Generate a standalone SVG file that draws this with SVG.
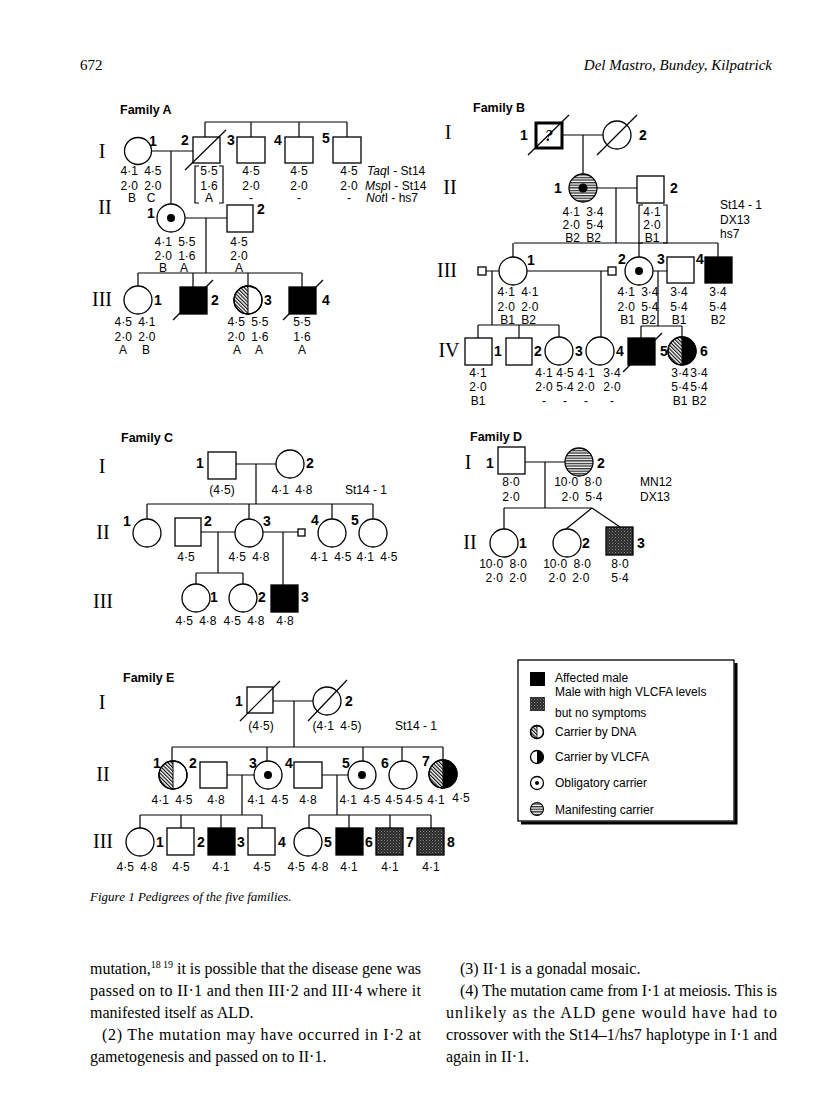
<svg xmlns="http://www.w3.org/2000/svg" width="816" height="1118" viewBox="0 0 816 1118">
<defs>
<style>
.l{stroke:#000;stroke-width:1.2;fill:none}
.s{fill:#fff;stroke:#000;stroke-width:1.3}
.o{fill:none;stroke:#000;stroke-width:1.3}
.f{fill:#000;stroke:#000;stroke-width:1.3}
.d{font-family:"Liberation Sans",Arial,sans-serif;font-size:12px;word-spacing:3px;text-anchor:middle;fill:#000}
.m{font-family:"Liberation Sans",Arial,sans-serif;font-size:12px;fill:#000}
.n{font-family:"Liberation Sans",Arial,sans-serif;font-size:14px;font-weight:bold;text-anchor:middle;fill:#000}
.g{font-family:"Liberation Serif","Times New Roman",serif;font-size:20px;text-anchor:middle;fill:#000}
.ti{font-family:"Liberation Sans",Arial,sans-serif;font-size:12.5px;font-weight:bold;fill:#000}
.lg{font-family:"Liberation Sans",Arial,sans-serif;font-size:12px;fill:#000}
.bt{font-family:"Liberation Serif","Times New Roman",serif;font-size:16px;fill:#000}
</style>
<pattern id="hatch" patternUnits="userSpaceOnUse" width="2.6" height="2.6" patternTransform="rotate(-45)"><rect width="2.6" height="2.6" fill="#fff"/><line x1="0.6" y1="0" x2="0.6" y2="2.6" stroke="#000" stroke-width="1.1"/></pattern>
<pattern id="stripe" patternUnits="userSpaceOnUse" width="4" height="2.6"><rect width="4" height="2.6" fill="#fff"/><line x1="0" y1="0.7" x2="4" y2="0.7" stroke="#000" stroke-width="1.1"/></pattern>
<pattern id="stip" patternUnits="userSpaceOnUse" width="3" height="3"><rect width="3" height="3" fill="#2a2a2a"/><rect x="0" y="0" width="1" height="1" fill="#8a8a8a"/><rect x="1.5" y="1.5" width="1" height="1" fill="#6a6a6a"/></pattern>
</defs>
<rect width="816" height="1118" fill="#fff"/>

<g id="header">
<text x="80" y="70" style="font-family:'Liberation Serif',serif;font-size:15px">672</text>
<text x="772" y="70" text-anchor="end" style="font-family:'Liberation Serif',serif;font-size:15px;font-style:italic">Del Mastro, Bundey, Kilpatrick</text>
</g>

<g id="labels">
<text class="ti" x="120" y="114">Family A</text>
<text class="ti" x="473" y="112">Family B</text>
<text class="ti" x="121" y="442">Family C</text>
<text class="ti" x="470" y="441">Family D</text>
<text class="ti" x="123" y="682">Family E</text>
<text class="g" x="102" y="158">I</text><text class="g" x="105" y="214">II</text><text class="g" x="102" y="306">III</text>
<text class="g" x="448" y="139">I</text><text class="g" x="450" y="194">II</text><text class="g" x="447" y="277">III</text><text class="g" x="449" y="357">IV</text>
<text class="g" x="102" y="473">I</text><text class="g" x="103" y="539">II</text><text class="g" x="103" y="608">III</text>
<text class="g" x="468" y="469">I</text><text class="g" x="470" y="549">II</text>
<text class="g" x="102" y="709">I</text><text class="g" x="103" y="781">II</text><text class="g" x="103" y="848">III</text>
<text class="m" x="367" y="175"><tspan font-style="italic">Taq</tspan>I - St14</text>
<text class="m" x="365" y="190"><tspan font-style="italic">Msp</tspan>I - St14</text>
<text class="m" x="366" y="202"><tspan font-style="italic">Not</tspan>I - hs7</text>
<text class="m" x="720" y="209">St14 - 1</text><text class="m" x="720" y="224">DX13</text><text class="m" x="720" y="238">hs7</text>
<text class="m" x="345" y="494">St14 - 1</text>
<text class="m" x="640" y="486">MN12</text><text class="m" x="640" y="501">DX13</text>
<text class="m" x="395" y="730">St14 - 1</text>
</g>

<g id="connectors">
<path class="l" d="M152,151H193M171,151V204M205,122H347M205,122V137M251,122V137M299,122V137M347,122V137M185,218H227M206,218V273M138,273H302M138,273V286M193,273V287M248,273V286M302,273V287"/>
<path class="l" d="M562,135H603M583,135V174M597,188H637M616,188V243M514,243H718M513,243V257M639,243V257M718,243V257M486,271H499M492,271V325M527,271H608M601,271V337M653,271H667M658,271V326M478,325H559M478,325V338M519,325V338M559,325V337M641,326H682M641,326V338M682,326V337"/>
<path class="l" d="M236,464H276M256,464V504M147,504H373M147,504V519M249,504V519M332,504V519M373,504V519M201,532H235M218,532V573M263,532H298M283,532V585M196,573H243M196,573V584M243,573V584"/>
<path class="l" d="M525,462H565M545,462V508M504,508H592M504,508V529M592,508L566,529M592,508L620,527"/>
<path class="l" d="M273,701H313M294,701V747M172,747H443M172,747V761M267,747V761M363,747V761M402,747V761M443,747V760M227,775H254M242,775V815M322,775H348M337,775V815M140,815H262M140,815V828M181,815V828M221,815V828M262,815V828M309,815H431M309,815V828M349,815V828M390,815V828M431,815V828"/>
</g>

<g id="A-I-1"><circle class="s" cx="138" cy="151" r="13.5"/><text class="n" x="153" y="146">1</text>
<text class="d" x="141" y="175">4·1 4·5</text><text class="d" x="141" y="190">2·0 2·0</text><text class="d" x="132" y="202">B</text><text class="d" x="151" y="202">C</text></g>
<g id="A-I-2"><rect class="s" x="193" y="137" width="27" height="26"/><line class="l" x1="185" y1="170" x2="226" y2="130"/><text class="n" x="185" y="145">2</text>
<text class="d" x="209" y="175">5·5</text><text class="d" x="209" y="190">1·6</text><text class="d" x="209" y="202">A</text>
<path class="l" d="M199,166H195V203H199M219,166H223V203H219"/></g>
<g id="A-I-3"><rect class="s" x="237" y="137" width="28" height="26"/><text class="n" x="231" y="145">3</text>
<text class="d" x="251" y="175">4·5</text><text class="d" x="251" y="190">2·0</text><text class="d" x="251" y="202">-</text></g>
<g id="A-I-4"><rect class="s" x="285" y="137" width="28" height="26"/><text class="n" x="278" y="145">4</text>
<text class="d" x="299" y="175">4·5</text><text class="d" x="299" y="190">2·0</text><text class="d" x="299" y="202">-</text></g>
<g id="A-I-5"><rect class="s" x="333" y="137" width="28" height="26"/><text class="n" x="326" y="143">5</text>
<text class="d" x="349" y="175">4·5</text><text class="d" x="349" y="190">2·0</text><text class="d" x="349" y="202">-</text></g>
<g id="A-II-1"><circle class="s" cx="171" cy="218" r="14"/><circle cx="171" cy="218" r="4"/><text class="n" x="151" y="218">1</text>
<text class="d" x="175" y="246">4·1 5·5</text><text class="d" x="175" y="260">2·0 1·6</text><text class="d" x="163" y="272">B</text><text class="d" x="184" y="272">A</text></g>
<g id="A-II-2"><rect class="s" x="227" y="205" width="26" height="27"/><text class="n" x="261" y="214">2</text>
<text class="d" x="239" y="246">4·5</text><text class="d" x="239" y="260">2·0</text><text class="d" x="239" y="272">A</text></g>
<g id="A-III-1"><circle class="s" cx="138" cy="300" r="14"/><text class="n" x="158" y="305">1</text>
<text class="d" x="135" y="326">4·5 4·1</text><text class="d" x="135" y="341">2·0 2·0</text><text class="d" x="123" y="354">A</text><text class="d" x="146" y="354">B</text></g>
<g id="A-III-2"><rect class="f" x="180" y="287" width="27" height="27"/><line class="l" x1="173" y1="320" x2="213" y2="280"/><text class="n" x="215" y="305">2</text></g>
<g id="A-III-3"><circle class="s" cx="248" cy="300" r="14"/><path d="M248,286A14,14 0 0 0 248,314Z" fill="url(#hatch)" stroke="#000" stroke-width="1"/><circle class="o" cx="248" cy="300" r="14"/><text class="n" x="268" y="305">3</text>
<text class="d" x="248" y="326">4·5 5·5</text><text class="d" x="248" y="341">2·0 1·6</text><text class="d" x="237" y="354">A</text><text class="d" x="259" y="354">A</text></g>
<g id="A-III-4"><rect class="f" x="289" y="287" width="27" height="27"/><line class="l" x1="283" y1="320" x2="323" y2="280"/><text class="n" x="326" y="305">4</text>
<text class="d" x="302" y="326">5·5</text><text class="d" x="302" y="341">1·6</text><text class="d" x="302" y="354">A</text></g>

<g id="B-I-1"><rect x="536" y="123" width="26" height="25" fill="#fff" stroke="#000" stroke-width="3"/><text x="549" y="141" text-anchor="middle" style="font-family:'Liberation Serif',serif;font-size:16px;font-style:italic;font-weight:bold">?</text><line class="l" x1="528" y1="155" x2="569" y2="115"/><text class="n" x="524" y="140">1</text></g>
<g id="B-I-2"><circle class="s" cx="617" cy="135" r="14"/><line class="l" x1="597" y1="155" x2="637" y2="115"/><text class="n" x="643" y="140">2</text></g>
<g id="B-II-1"><circle cx="583" cy="188" r="14" fill="url(#stripe)" stroke="#000" stroke-width="1.3"/><circle cx="583" cy="188" r="4.5"/><text class="n" x="558" y="193">1</text>
<text class="d" x="583" y="216">4·1 3·4</text><text class="d" x="583" y="229">2·0 5·4</text><text class="d" x="583" y="242">B2 B2</text></g>
<g id="B-II-2"><rect class="s" x="637" y="176" width="27" height="27"/><text class="n" x="674" y="193">2</text>
<text class="d" x="652" y="216">4·1</text><text class="d" x="652" y="229">2·0</text><text class="d" x="652" y="242">B1</text>
<path class="l" d="M643,205H639V243H643M663,205H667V243H663"/></g>
<g id="B-III-s1"><rect class="s" x="478" y="267" width="8" height="8"/></g>
<g id="B-III-1"><circle class="s" cx="513" cy="271" r="14"/><text class="n" x="531" y="265">1</text>
<text class="d" x="518" y="296">4·1 4·1</text><text class="d" x="518" y="311">2·0 2·0</text><text class="d" x="518" y="324">B1 B2</text></g>
<g id="B-III-s2"><rect class="s" x="608" y="267" width="8" height="8"/></g>
<g id="B-III-2"><circle class="s" cx="639" cy="271" r="14"/><circle cx="639" cy="271" r="4"/><text class="n" x="622" y="264">2</text>
<text class="d" x="638" y="296">4·1 3·4</text><text class="d" x="638" y="311">2·0 5·4</text><text class="d" x="638" y="324">B1 B2</text></g>
<g id="B-III-3"><rect class="s" x="667" y="257" width="27" height="26"/><text class="n" x="661" y="264">3</text>
<text class="d" x="679" y="296">3·4</text><text class="d" x="679" y="311">5·4</text><text class="d" x="679" y="324">B1</text></g>
<g id="B-III-4"><rect class="f" x="705" y="257" width="27" height="26"/><text class="n" x="700" y="264">4</text>
<text class="d" x="718" y="296">3·4</text><text class="d" x="718" y="311">5·4</text><text class="d" x="718" y="324">B2</text></g>
<g id="B-IV-1"><rect class="s" x="465" y="338" width="27" height="27"/><text class="n" x="498" y="356">1</text>
<text class="d" x="478" y="377">4·1</text><text class="d" x="478" y="391">2·0</text><text class="d" x="478" y="405">B1</text></g>
<g id="B-IV-2"><rect class="s" x="506" y="338" width="26" height="27"/><text class="n" x="538" y="356">2</text></g>
<g id="B-IV-3"><circle class="s" cx="559" cy="351" r="14"/><text class="n" x="579" y="356">3</text>
<text class="d" x="544" y="377">4·1</text><text class="d" x="565" y="377">4·5</text><text class="d" x="544" y="391">2·0</text><text class="d" x="565" y="391">5·4</text><text class="d" x="544" y="405">-</text><text class="d" x="565" y="405">-</text></g>
<g id="B-IV-4"><circle class="s" cx="600" cy="351" r="14"/><text class="n" x="620" y="356">4</text>
<text class="d" x="586" y="377">4·1</text><text class="d" x="612" y="377">3·4</text><text class="d" x="586" y="391">2·0</text><text class="d" x="612" y="391">2·0</text><text class="d" x="586" y="405">-</text><text class="d" x="612" y="405">-</text></g>
<g id="B-IV-5"><rect class="f" x="628" y="338" width="27" height="27"/><line class="l" x1="623" y1="372" x2="662" y2="333"/><text class="n" x="664" y="356">5</text>
<text class="d" x="680" y="377">3·4</text><text class="d" x="680" y="391">5·4</text><text class="d" x="680" y="405">B1</text></g>
<g id="B-IV-6"><circle class="s" cx="682" cy="351" r="14"/><path d="M682,337A14,14 0 0 0 682,365Z" fill="url(#hatch)" stroke="#000" stroke-width="1"/><path d="M682,337A14,14 0 0 1 682,365Z" fill="#000"/><circle class="o" cx="682" cy="351" r="14"/><text class="n" x="704" y="356">6</text>
<text class="d" x="699" y="377">3·4</text><text class="d" x="699" y="391">5·4</text><text class="d" x="699" y="405">B2</text></g>

<g id="C-I-1"><rect class="s" x="208" y="452" width="28" height="27"/><text class="n" x="200" y="468">1</text><text class="d" x="222" y="494">(4·5)</text></g>
<g id="C-I-2"><circle class="s" cx="290" cy="464" r="14"/><text class="n" x="310" y="468">2</text><text class="d" x="292" y="494">4·1 4·8</text></g>
<g id="C-II-1"><circle class="s" cx="147" cy="533" r="14"/><text class="n" x="127" y="526">1</text></g>
<g id="C-II-2"><rect class="s" x="175" y="518" width="26" height="28"/><text class="n" x="208" y="526">2</text><text class="d" x="186" y="561">4·5</text></g>
<g id="C-II-3"><circle class="s" cx="249" cy="533" r="14"/><text class="n" x="267" y="526">3</text><text class="d" x="249" y="561">4·5 4·8</text></g>
<g id="C-II-s"><rect class="s" x="298" y="529" width="7" height="7"/></g>
<g id="C-II-4"><circle class="s" cx="332" cy="533" r="14"/><text class="n" x="315" y="525">4</text><text class="d" x="331" y="561">4·1 4·5</text></g>
<g id="C-II-5"><circle class="s" cx="373" cy="533" r="14"/><text class="n" x="355" y="525">5</text><text class="d" x="377" y="561">4·1 4·5</text></g>
<g id="C-III-1"><circle class="s" cx="196" cy="598" r="14"/><text class="n" x="214" y="602">1</text><text class="d" x="196" y="625">4·5 4·8</text></g>
<g id="C-III-2"><circle class="s" cx="243" cy="598" r="14"/><text class="n" x="262" y="602">2</text><text class="d" x="244" y="625">4·5 4·8</text></g>
<g id="C-III-3"><rect class="f" x="271" y="585" width="27" height="27"/><text class="n" x="305" y="602">3</text><text class="d" x="285" y="625">4·8</text></g>

<g id="D-I-1"><rect class="s" x="498" y="447" width="27" height="27"/><text class="n" x="490" y="468">1</text>
<text class="d" x="511" y="486">8·0</text><text class="d" x="511" y="501">2·0</text></g>
<g id="D-I-2"><circle cx="579" cy="462" r="14" fill="url(#stripe)" stroke="#000" stroke-width="1.3"/><text class="n" x="601" y="468">2</text>
<text class="d" x="578" y="486">10·0 8·0</text><text class="d" x="582" y="501">2·0 5·4</text></g>
<g id="D-II-1"><circle class="s" cx="504" cy="543" r="14"/><text class="n" x="523" y="548">1</text>
<text class="d" x="503" y="568">10·0 8·0</text><text class="d" x="506" y="582">2·0 2·0</text></g>
<g id="D-II-2"><circle class="s" cx="567" cy="543" r="14"/><text class="n" x="586" y="548">2</text>
<text class="d" x="567" y="568">10·0 8·0</text><text class="d" x="569" y="582">2·0 2·0</text></g>
<g id="D-II-3"><rect x="606" y="527" width="27" height="28" fill="url(#stip)" stroke="#000" stroke-width="1.3"/><text class="n" x="641" y="548">3</text>
<text class="d" x="620" y="568">8·0</text><text class="d" x="620" y="582">5·4</text></g>

<g id="E-I-1"><rect class="s" x="247" y="687" width="26" height="26"/><line class="l" x1="240" y1="721" x2="280" y2="681"/><text class="n" x="239" y="706">1</text><text class="d" x="261" y="730">(4·5)</text></g>
<g id="E-I-2"><circle class="s" cx="327" cy="701" r="14"/><line class="l" x1="308" y1="721" x2="347" y2="680"/><text class="n" x="349" y="706">2</text><text class="d" x="337" y="730">(4·1 4·5)</text></g>
<g id="E-II-1"><circle class="s" cx="173" cy="775" r="14"/><path d="M173,761A14,14 0 0 0 173,789Z" fill="url(#hatch)" stroke="#000" stroke-width="1"/><circle class="o" cx="173" cy="775" r="14"/><text class="n" x="157" y="768">1</text><text class="d" x="172" y="804">4·1 4·5</text></g>
<g id="E-II-2"><rect class="s" x="200" y="762" width="27" height="26"/><text class="n" x="193" y="768">2</text><text class="d" x="216" y="804">4·8</text></g>
<g id="E-II-3"><circle class="s" cx="268" cy="775" r="14"/><circle cx="268" cy="775" r="4"/><text class="n" x="253" y="768">3</text><text class="d" x="268" y="804">4·1 4·5</text></g>
<g id="E-II-4"><rect class="s" x="294" y="762" width="28" height="26"/><text class="n" x="289" y="768">4</text><text class="d" x="308" y="804">4·8</text></g>
<g id="E-II-5"><circle class="s" cx="362" cy="775" r="14"/><circle cx="362" cy="775" r="4"/><text class="n" x="346" y="768">5</text><text class="d" x="360" y="804">4·1 4·5</text></g>
<g id="E-II-6"><circle class="s" cx="403" cy="775" r="14"/><text class="n" x="385" y="768">6</text><text class="d" x="394" y="804">4·5</text><text class="d" x="414" y="804">4·5</text></g>
<g id="E-II-7"><circle class="s" cx="443" cy="774" r="14"/><path d="M443,760A14,14 0 0 0 443,788Z" fill="url(#hatch)" stroke="#000" stroke-width="1"/><path d="M443,760A14,14 0 0 1 443,788Z" fill="#000"/><circle class="o" cx="443" cy="774" r="14"/><text class="n" x="426" y="766">7</text><text class="d" x="436" y="804">4·1</text><text class="d" x="461" y="802">4·5</text></g>
<g id="E-III-1"><circle class="s" cx="140" cy="842" r="14"/><text class="n" x="160" y="847">1</text><text class="d" x="137" y="871">4·5 4·8</text></g>
<g id="E-III-2"><rect class="s" x="167" y="828" width="27" height="27"/><text class="n" x="201" y="847">2</text><text class="d" x="181" y="871">4·5</text></g>
<g id="E-III-3"><rect class="f" x="208" y="828" width="27" height="27"/><text class="n" x="241" y="847">3</text><text class="d" x="221" y="871">4·1</text></g>
<g id="E-III-4"><rect class="s" x="248" y="828" width="27" height="27"/><text class="n" x="282" y="847">4</text><text class="d" x="262" y="871">4·5</text></g>
<g id="E-III-5"><circle class="s" cx="308" cy="842" r="14"/><text class="n" x="328" y="847">5</text><text class="d" x="308" y="871">4·5 4·8</text></g>
<g id="E-III-6"><rect class="f" x="336" y="828" width="27" height="27"/><text class="n" x="369" y="847">6</text><text class="d" x="349" y="871">4·1</text></g>
<g id="E-III-7"><rect x="376" y="828" width="27" height="27" fill="url(#stip)" stroke="#000" stroke-width="1.3"/><text class="n" x="410" y="847">7</text><text class="d" x="390" y="871">4·1</text></g>
<g id="E-III-8"><rect x="417" y="828" width="27" height="27" fill="url(#stip)" stroke="#000" stroke-width="1.3"/><text class="n" x="451" y="847">8</text><text class="d" x="431" y="871">4·1</text></g>

<g id="legend">
<path d="M736,663V823H521" fill="none" stroke="#000" stroke-width="3"/>
<rect x="518" y="660" width="216" height="161" fill="#fff" stroke="#000" stroke-width="1.3"/>
<rect x="530" y="672" width="15" height="14" fill="#000"/>
<text class="lg" x="555" y="682">Affected male</text>
<rect x="530" y="697" width="15" height="14" fill="url(#stip)"/>
<text class="lg" x="555" y="696">Male with high VLCFA levels</text>
<text class="lg" x="555" y="717">but no symptoms</text>
<circle class="s" cx="537" cy="732" r="6.5"/><path d="M537,725.5A6.5,6.5 0 0 0 537,738.5Z" fill="url(#hatch)" stroke="#000" stroke-width="0.8"/><circle class="o" cx="537" cy="732" r="6.5"/>
<text class="lg" x="555" y="736">Carrier by DNA</text>
<circle class="s" cx="537" cy="757" r="6.5"/><path d="M537,750.5A6.5,6.5 0 0 1 537,763.5Z" fill="#000"/>
<text class="lg" x="555" y="761">Carrier by VLCFA</text>
<circle class="s" cx="537" cy="783" r="6.5"/><circle cx="537" cy="783" r="2"/>
<text class="lg" x="555" y="787">Obligatory carrier</text>
<circle cx="537" cy="809" r="6.5" fill="url(#stripe)" stroke="#000" stroke-width="1.1"/>
<text class="lg" x="555" y="814">Manifesting carrier</text>
</g>

<g id="caption">
<text x="90" y="901" style="font-family:'Liberation Serif',serif;font-size:13px;font-style:italic">Figure 1    Pedigrees of the five families.</text>
</g>
<g id="body" class="bt">
<text x="90" y="974" textLength="331" lengthAdjust="spacing">mutation,<tspan font-size="10" dy="-6">18 19</tspan><tspan dy="6"> it is possible that the disease gene was</tspan></text>
<text x="90" y="996" textLength="331" lengthAdjust="spacing">passed on to II·1 and then III·2 and III·4 where it</text>
<text x="90" y="1018">manifested itself as ALD.</text>
<text x="102" y="1040" textLength="319" lengthAdjust="spacing">(2) The mutation may have occurred in I·2 at</text>
<text x="90" y="1062">gametogenesis and passed on to II·1.</text>
<text x="460" y="974">(3) II·1 is a gonadal mosaic.</text>
<text x="460" y="996" textLength="317" lengthAdjust="spacing">(4) The mutation came from I·1 at meiosis. This is</text>
<text x="446" y="1018" textLength="331" lengthAdjust="spacing">unlikely as the ALD gene would have had to</text>
<text x="446" y="1040" textLength="331" lengthAdjust="spacing">crossover with the St14–1/hs7 haplotype in I·1 and</text>
<text x="446" y="1062">again in II·1.</text>
</g>
</svg>
